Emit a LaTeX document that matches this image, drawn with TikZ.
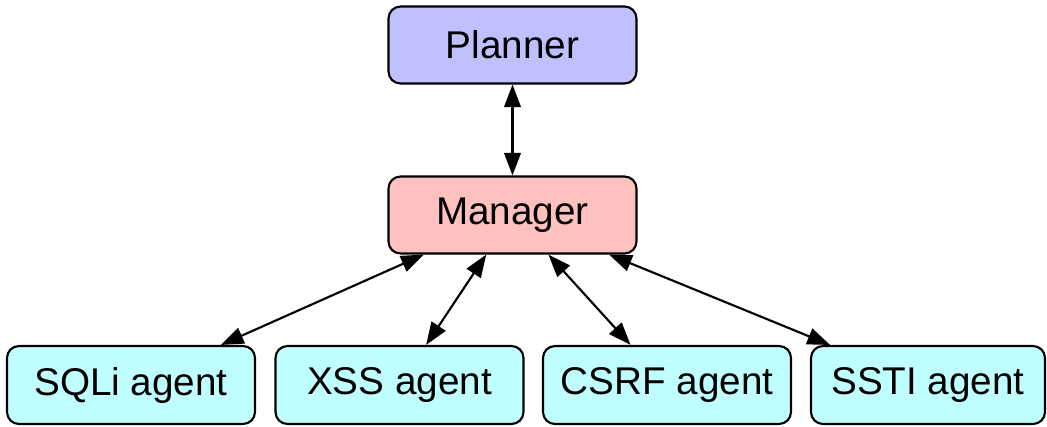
\documentclass[tikz,border=0pt]{standalone}
\usepackage{fontspec}
\setmainfont{Liberation Sans}
\usetikzlibrary{arrows.meta}
\definecolor{planfill}{HTML}{C0C0FF}
\definecolor{mgrfill}{HTML}{FFC0C0}
\definecolor{agentfill}{HTML}{C0FFFF}
\begin{document}
\begin{tikzpicture}[x=0.75pt,y=-0.75pt,
  box/.style={draw=black, line width=1.6pt, rounded corners=9pt,
    font=\fontsize{29}{34}\selectfont, inner sep=0pt,
    minimum width=186pt, minimum height=57.75pt},
  agentbox/.style={box, fill=agentfill, minimum height=58.5pt},
  link/.style={line width=1.6pt,
    {Triangle[length=17pt,width=12.5pt]}-{Triangle[length=17pt,width=12.5pt]}}]
\useasboundingbox (0,0) rectangle (1047,426);
\node[box, fill=planfill] (planner) at (512.5,45) {Planner};
\node[box, fill=mgrfill] (manager) at (512.5,215) {Manager};
\node[agentbox] (sqli) at (131,385) {SQLi agent};
\node[agentbox] (xss) at (399.5,385) {XSS agent};
\node[agentbox] (csrf) at (667,385) {CSRF agent};
\node[agentbox, minimum width=175.5pt] (ssti) at (928,385) {SSTI agent};
\draw[link] (planner) -- (manager);
\draw[link] (manager) -- (sqli);
\draw[link] (manager) -- (xss);
\draw[link] (manager) -- (csrf);
\draw[link] (manager) -- (ssti);
\end{tikzpicture}
\end{document}
